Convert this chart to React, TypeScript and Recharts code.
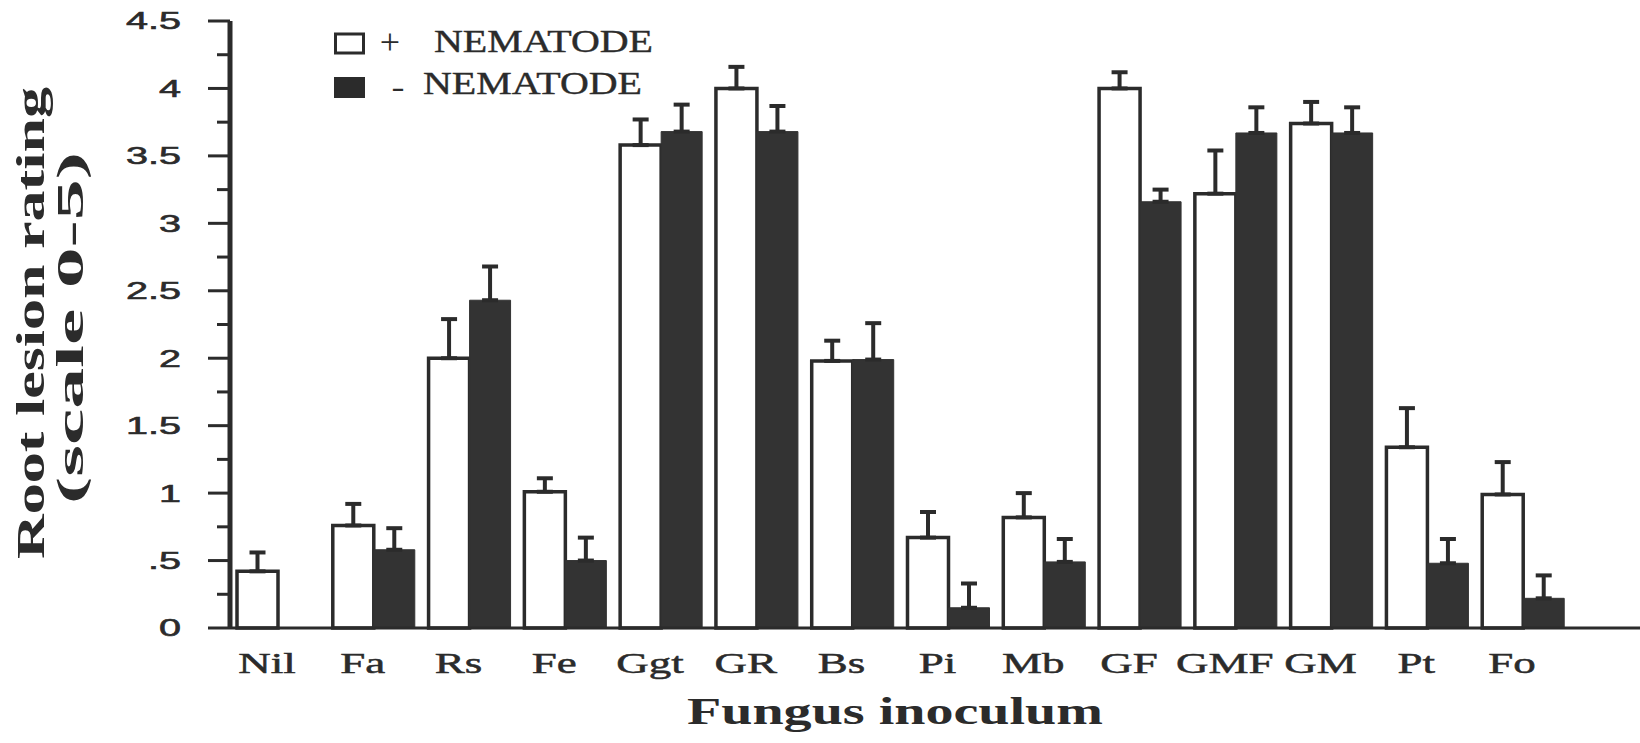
import React from "react";
import { BarChart, Bar, XAxis, YAxis, ErrorBar, Legend } from "recharts";

const categories = ["Nil", "Fa", "Rs", "Fe", "Ggt", "GR", "Bs", "Pi", "Mb", "GF", "GMF", "GM", "Pt", "Fo"];
const withNematode = [0.42, 0.76, 2.0, 1.01, 3.58, 4.0, 1.98, 0.67, 0.82, 4.0, 3.22, 3.74, 1.34, 0.99];
const withNematodeErr = [0.14, 0.16, 0.29, 0.1, 0.19, 0.16, 0.15, 0.19, 0.18, 0.12, 0.32, 0.16, 0.29, 0.24];
const withoutNematode = [null, 0.58, 2.43, 0.5, 3.68, 3.68, 1.99, 0.15, 0.49, 3.16, 3.67, 3.67, 0.48, 0.22];
const withoutNematodeErr = [null, 0.16, 0.25, 0.17, 0.2, 0.19, 0.27, 0.18, 0.17, 0.09, 0.19, 0.19, 0.18, 0.17];

const seriesNames = ["+ NEMATODE", "- NEMATODE"];
const yMajorTicks = [0, 0.5, 1, 1.5, 2, 2.5, 3, 3.5, 4, 4.5];
const yMajorLabels = ["0", ".5", "1", "1.5", "2", "2.5", "3", "3.5", "4", "4.5"];
const yMinorTicks = [0.25, 0.75, 1.25, 1.75, 2.25, 2.75, 3.25, 3.75, 4.25];
const yAllTicks = [...yMajorTicks, ...yMinorTicks].sort((a, b) => a - b);
const xTitle = "Fungus inoculum";
const yTitleLines = ["Root lesion rating", "(scale 0-5)"];

const INK = "#2b2b2b";
const SERIF = "'Liberation Serif', 'Times New Roman', serif";
const SANS = "'Liberation Sans', Arial, sans-serif";

const data = categories.map((name, i) => ({
  name,
  plus: withNematode[i],
  plusErr: withNematodeErr[i] == null ? null : [0, withNematodeErr[i]],
  minus: withoutNematode[i],
  minusErr: withoutNematodeErr[i] == null ? null : [0, withoutNematodeErr[i] as number],
}));

const XTick = (props: any) => {
  const { x, y, payload } = props;
  return (
    <g transform={`translate(${x - 11},${y + 45}) scale(1.5,1)`}>
      <text
        x={0}
        y={0}
        textAnchor="middle"
        fontFamily={SERIF}
        fontSize={30}
        fill={INK}
        stroke={INK}
        strokeWidth={0.5}
      >
        {payload.value}
      </text>
    </g>
  );
};

const YTick = (props: any) => {
  const { x, y, payload } = props;
  const idx = yMajorTicks.indexOf(payload.value);
  const major = idx >= 0;
  return (
    <g>
      <line x1={x - (major ? 22 : 13)} x2={x} y1={y} y2={y} stroke={INK} strokeWidth={3} />
      {major && (
        <g transform={`translate(${x - 49},${y}) scale(1.65,1)`}>
          <text
            x={0}
            y={0}
            textAnchor="end"
            dominantBaseline="central"
            fontFamily={SANS}
            fontSize={24}
            fill={INK}
            stroke={INK}
            strokeWidth={0.6}
          >
            {yMajorLabels[idx]}
          </text>
        </g>
      )}
    </g>
  );
};

const XTitle = () => (
  <text
    x={895}
    y={724}
    textAnchor="middle"
    fontFamily={SERIF}
    fontWeight="bold"
    fontSize={38}
    fill={INK}
    textLength={416}
    lengthAdjust="spacingAndGlyphs"
  >
    {xTitle}
  </text>
);

const YTitle = () => (
  <g>
    <text
      transform="translate(44,323) rotate(-90)"
      textAnchor="middle"
      fontFamily={SERIF}
      fontWeight="bold"
      fontSize={39}
      fill={INK}
      textLength={472}
      lengthAdjust="spacingAndGlyphs"
    >
      {yTitleLines[0]}
    </text>
    <text
      transform="translate(83,328) rotate(-90)"
      textAnchor="middle"
      fontFamily={SERIF}
      fontWeight="bold"
      fontSize={38}
      fill={INK}
      textLength={352}
      lengthAdjust="spacingAndGlyphs"
    >
      {yTitleLines[1]}
    </text>
  </g>
);

const renderLegend = (props: any) => {
  const payload = props.payload || [];
  return (
    <svg width={340} height={80} style={{ overflow: "visible" }}>
      {payload.map((entry: any, i: number) => {
        const label: string = entry.value || seriesNames[i];
        const sign = label.slice(0, 1);
        const word = label.slice(2);
        const filled = i === 1;
        const rowY = i === 0 ? 24 : 66;
        return (
          <g key={i}>
            {filled ? (
              <rect x={4} y={rowY - 17} width={31} height={21} fill={INK} />
            ) : (
              <rect x={5.5} y={rowY - 18} width={28} height={19} fill="#fff" stroke={INK} strokeWidth={3} />
            )}
            {filled ? (
              <text x={68} y={rowY + 3} textAnchor="middle" fontFamily={SERIF} fontSize={30} fill={INK} textLength={13} lengthAdjust="spacingAndGlyphs">
                {sign}
              </text>
            ) : (
              <text x={60} y={rowY + 2} textAnchor="middle" fontFamily={SERIF} fontSize={36} fill={INK}>
                {sign}
              </text>
            )}
            <text
              x={filled ? 93 : 104}
              y={rowY}
              fontFamily={SERIF}
              fontSize={31}
              fill={INK}
              stroke={INK}
              strokeWidth={0.4}
              textLength={219}
              lengthAdjust="spacingAndGlyphs"
            >
              {word}
            </text>
          </g>
        );
      })}
    </svg>
  );
};

export default function App() {
  return (
    <div style={{ position: "absolute", left: 0, top: 0, width: 1640, height: 743, background: "#fff" }}>
      <BarChart
        width={1640}
        height={743}
        data={data}
        margin={{ top: 21, right: 0, bottom: 55, left: 0 }}
        barGap={0}
        barSize={41}
      >
        <XAxis
          dataKey="name"
          height={60}
          interval={0}
          axisLine={{ stroke: INK, strokeWidth: 3 }}
          tickLine={false}
          tickSize={0}
          tickMargin={0}
          tick={<XTick />}
          padding={{ left: 0, right: 69 }}
          label={<XTitle />}
        />
        <YAxis
          width={230}
          domain={[0, 4.5]}
          ticks={yAllTicks}
          interval={0}
          axisLine={{ stroke: INK, strokeWidth: 5 }}
          tickLine={false}
          tickSize={0}
          tickMargin={0}
          tick={<YTick />}
          label={<YTitle />}
        />
        <Legend
          layout="vertical"
          align="center"
          verticalAlign="middle"
          content={renderLegend}
          wrapperStyle={{ position: "absolute", left: 330, top: 28, width: 340, height: 80 }}
        />
        <Bar dataKey="plus" name={seriesNames[0]} fill="#ffffff" stroke={INK} strokeWidth={3.5} isAnimationActive={false}>
          <ErrorBar dataKey="plusErr" width={8} stroke={INK} strokeWidth={4} direction="y" isAnimationActive={false} />
        </Bar>
        <Bar dataKey="minus" name={seriesNames[1]} fill="#333333" stroke="#333333" strokeWidth={1} isAnimationActive={false}>
          <ErrorBar dataKey="minusErr" width={8} stroke={INK} strokeWidth={4} direction="y" isAnimationActive={false} />
        </Bar>
      </BarChart>
    </div>
  );
}
